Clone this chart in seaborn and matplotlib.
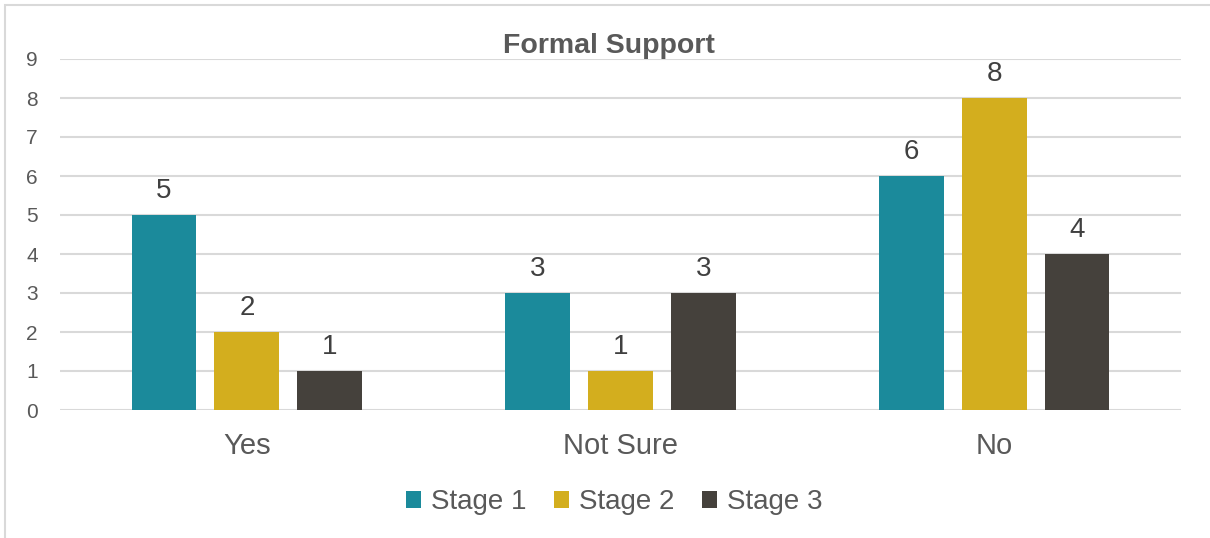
import matplotlib
matplotlib.use("Agg")
import matplotlib.pyplot as plt
import seaborn as sns
import pandas as pd
from matplotlib.patches import Rectangle

categories = ["Yes", "Not Sure", "No"]
stages = ["Stage 1", "Stage 2", "Stage 3"]
stage1 = [5, 3, 6]
stage2 = [2, 1, 8]
stage3 = [1, 3, 4]
yticks = [0, 1, 2, 3, 4, 5, 6, 7, 8, 9]

palette = {"Stage 1": "#1B8A9B", "Stage 2": "#D3AE1E", "Stage 3": "#45413C"}
text_color = "#595959"
grid_color = "#D9D9D9"

df = pd.DataFrame({
    "category": categories * 3,
    "stage": [s for s in stages for _ in categories],
    "value": stage1 + stage2 + stage3,
})

sns.set_theme(style="white")
plt.rcParams["font.family"] = ["Liberation Sans", "DejaVu Sans"]

fig = plt.figure(figsize=(12.10, 5.38), dpi=100)
ax = fig.add_axes([60 / 1210, 1 - 410 / 538, 1121 / 1210, 351 / 538])

sns.barplot(data=df, x="category", y="value", hue="stage", order=categories,
            hue_order=stages, palette=palette, width=0.666, gap=0.22,
            saturation=1, linewidth=0, ax=ax, legend=True)

ax.set_xlim(-0.5, 2.5)
ax.set_ylim(0, 9)
ax.set_yticks(yticks)
ax.set_yticklabels([str(t) for t in yticks])
ax.set_xlabel("")
ax.set_ylabel("")
ax.grid(axis="y", color=grid_color, linewidth=1.5)
ax.set_axisbelow(True)
for sp in ax.spines.values():
    sp.set_visible(False)
ax.tick_params(axis="y", length=0, pad=16, labelsize=15, labelcolor=text_color)
ax.tick_params(axis="x", length=0, pad=15.5, labelsize=21, labelcolor=text_color)

for container in ax.containers:
    ax.bar_label(container, fmt="%d", padding=8, fontsize=20, color="#404040")

handles, labels = ax.get_legend_handles_labels()
ax.legend_.remove()
fig.legend(handles, labels, loc="center", bbox_to_anchor=(614 / 1210, 1 - 502 / 538),
           ncol=3, frameon=False, fontsize=20, labelcolor=text_color,
           handlelength=0.55, handleheight=0.55, handletextpad=0.35, columnspacing=1.0)

fig.text(609 / 1210, 1 - 46 / 538, "Formal Support", ha="center", va="center",
         fontsize=20.5, fontweight="bold", color=text_color)

# light frame around the chart area
fig.patches.append(Rectangle((5 / 1210, -0.05), 1.1, 1 - 5 / 538 + 0.05,
                             transform=fig.transFigure, fill=False,
                             edgecolor=grid_color, linewidth=1.5))

fig.savefig("out.png", dpi=100, facecolor="white")
